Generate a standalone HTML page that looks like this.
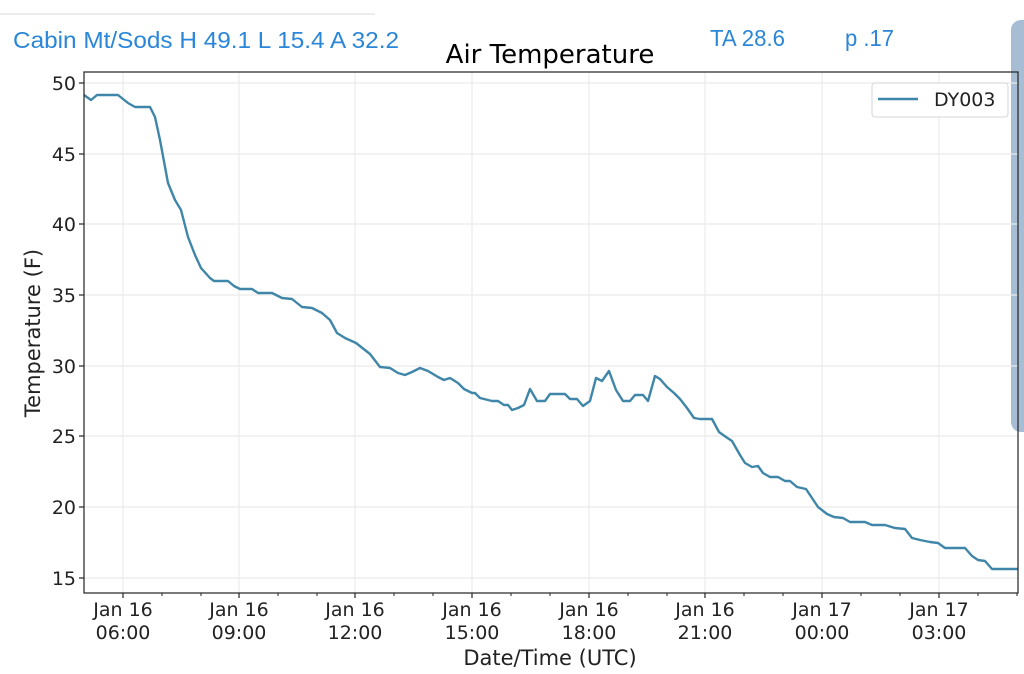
<!DOCTYPE html>
<html><head><meta charset="utf-8"><style>
body{margin:0;background:#fff;width:1024px;height:674px;overflow:hidden;position:relative}
</style></head><body>
<svg width="1024" height="674" xmlns="http://www.w3.org/2000/svg" style="position:absolute;left:0;top:0">
<line x1="0" y1="14" x2="375" y2="14" stroke="#e6e6e6" stroke-width="1.5"/>
<g font-family="Liberation Sans, sans-serif" font-size="23" fill="#2a86d8">
<text x="13" y="48" textLength="386" lengthAdjust="spacingAndGlyphs">Cabin Mt/Sods H 49.1 L 15.4 A 32.2</text>
<text x="710" y="46" textLength="75" lengthAdjust="spacingAndGlyphs">TA 28.6</text>
<text x="845" y="46" textLength="49" lengthAdjust="spacingAndGlyphs">p .17</text>
</g>
<rect x="1011" y="20" width="30" height="412" rx="10" fill="#a7bdd3"/>
<text x="550" y="63" text-anchor="middle" font-family="DejaVu Sans, sans-serif" font-size="26" fill="#000">Air Temperature</text>
<g stroke="#ebebeb" stroke-width="1.2">
<line x1="84" y1="83" x2="1018" y2="83"/><line x1="84" y1="154" x2="1018" y2="154"/>
<line x1="84" y1="224" x2="1018" y2="224"/><line x1="84" y1="295" x2="1018" y2="295"/>
<line x1="84" y1="366" x2="1018" y2="366"/><line x1="84" y1="436" x2="1018" y2="436"/>
<line x1="84" y1="507" x2="1018" y2="507"/><line x1="84" y1="578" x2="1018" y2="578"/>
<line x1="123" y1="72" x2="123" y2="593"/><line x1="239" y1="72" x2="239" y2="593"/>
<line x1="355" y1="72" x2="355" y2="593"/><line x1="472" y1="72" x2="472" y2="593"/>
<line x1="589" y1="72" x2="589" y2="593"/><line x1="705" y1="72" x2="705" y2="593"/>
<line x1="822" y1="72" x2="822" y2="593"/><line x1="939" y1="72" x2="939" y2="593"/>
</g>
<polyline fill="none" stroke="#3f86a8" stroke-width="2.4" stroke-linejoin="round" points="84,95 91,100 97,95 118,95 128,103 135,107 150,107 155,117 160,140 168,183 175,200 181,210 188,237 195,255 201,268 210,278 214,281 228,281 234,286 240,289 252,289 258,293 272,293 282,298 292,299 302,307 312,308 322,313 330,320 337,333 345,338 356,343 370,354 380,367 390,368 398,373 405,375 412,372 420,368 428,371 438,377 444,380 450,378 458,383 464,389 472,393 475,393 480,398 492,401 498,401 504,405 508,405 512,410 518,408 524,405 530,389 537,401 545,401 550,394 565,394 570,399 577,399 583,406 590,401 596,378 602,381 609,371 616,390 623,401 630,401 635,395 643,395 648,401 655,376 660,379 667,387 674,393 680,399 687,408 694,418 700,419 712,419 719,432 726,437 732,441 740,455 745,463 752,467 758,466 763,473 770,477 778,477 785,481 790,481 797,487 806,489 812,498 818,507 827,514 834,517 843,518 850,522 865,522 872,525 885,525 895,528 905,529 912,538 920,540 930,542 938,543 945,548 955,548 965,548 972,556 978,560 985,561 992,569 1018,569"/>
<rect x="84" y="72" width="934" height="521" fill="none" stroke="#222" stroke-width="1.2"/>
<g stroke="#222" stroke-width="1.2">
<line x1="79" y1="83" x2="84" y2="83"/><line x1="79" y1="154" x2="84" y2="154"/>
<line x1="79" y1="224" x2="84" y2="224"/><line x1="79" y1="295" x2="84" y2="295"/>
<line x1="79" y1="366" x2="84" y2="366"/><line x1="79" y1="436" x2="84" y2="436"/>
<line x1="79" y1="507" x2="84" y2="507"/><line x1="79" y1="578" x2="84" y2="578"/>
<line x1="123" y1="593" x2="123" y2="598"/><line x1="239" y1="593" x2="239" y2="598"/>
<line x1="355" y1="593" x2="355" y2="598"/><line x1="472" y1="593" x2="472" y2="598"/>
<line x1="589" y1="593" x2="589" y2="598"/><line x1="705" y1="593" x2="705" y2="598"/>
<line x1="822" y1="593" x2="822" y2="598"/><line x1="939" y1="593" x2="939" y2="598"/>
</g>
<g stroke="#222" stroke-width="1">
<line x1="162" y1="593" x2="162" y2="596"/><line x1="201" y1="593" x2="201" y2="596"/>
<line x1="278" y1="593" x2="278" y2="596"/><line x1="317" y1="593" x2="317" y2="596"/>
<line x1="394" y1="593" x2="394" y2="596"/><line x1="433" y1="593" x2="433" y2="596"/>
<line x1="511" y1="593" x2="511" y2="596"/><line x1="550" y1="593" x2="550" y2="596"/>
<line x1="628" y1="593" x2="628" y2="596"/><line x1="667" y1="593" x2="667" y2="596"/>
<line x1="744" y1="593" x2="744" y2="596"/><line x1="783" y1="593" x2="783" y2="596"/>
<line x1="861" y1="593" x2="861" y2="596"/><line x1="900" y1="593" x2="900" y2="596"/>
<line x1="978" y1="593" x2="978" y2="596"/><line x1="1017" y1="593" x2="1017" y2="596"/>
</g>
<g font-family="DejaVu Sans, sans-serif" font-size="19" fill="#222" text-anchor="end">
<text x="76" y="90">50</text><text x="76" y="161">45</text><text x="76" y="231">40</text>
<text x="76" y="302">35</text><text x="76" y="373">30</text><text x="76" y="443">25</text>
<text x="76" y="514">20</text><text x="76" y="585">15</text>
</g>
<g font-family="DejaVu Sans, sans-serif" font-size="19" fill="#222" text-anchor="middle">
<text x="123" y="616">Jan 16</text><text x="123" y="639">06:00</text>
<text x="239" y="616">Jan 16</text><text x="239" y="639">09:00</text>
<text x="355" y="616">Jan 16</text><text x="355" y="639">12:00</text>
<text x="472" y="616">Jan 16</text><text x="472" y="639">15:00</text>
<text x="589" y="616">Jan 16</text><text x="589" y="639">18:00</text>
<text x="705" y="616">Jan 16</text><text x="705" y="639">21:00</text>
<text x="822" y="616">Jan 17</text><text x="822" y="639">00:00</text>
<text x="939" y="616">Jan 17</text><text x="939" y="639">03:00</text>
<text x="550" y="665" font-size="21">Date/Time (UTC)</text>
<text x="0" y="0" font-size="21" transform="translate(40,333) rotate(-90)">Temperature (F)</text>
</g>
<rect x="872" y="83" width="136" height="34" rx="3" fill="#fff" stroke="#d6d6d6"/>
<line x1="878" y1="99" x2="918" y2="99" stroke="#3f86a8" stroke-width="2.4"/>
<text x="934" y="106" font-family="DejaVu Sans, sans-serif" font-size="19" fill="#222">DY003</text>
</svg>
</body></html>
